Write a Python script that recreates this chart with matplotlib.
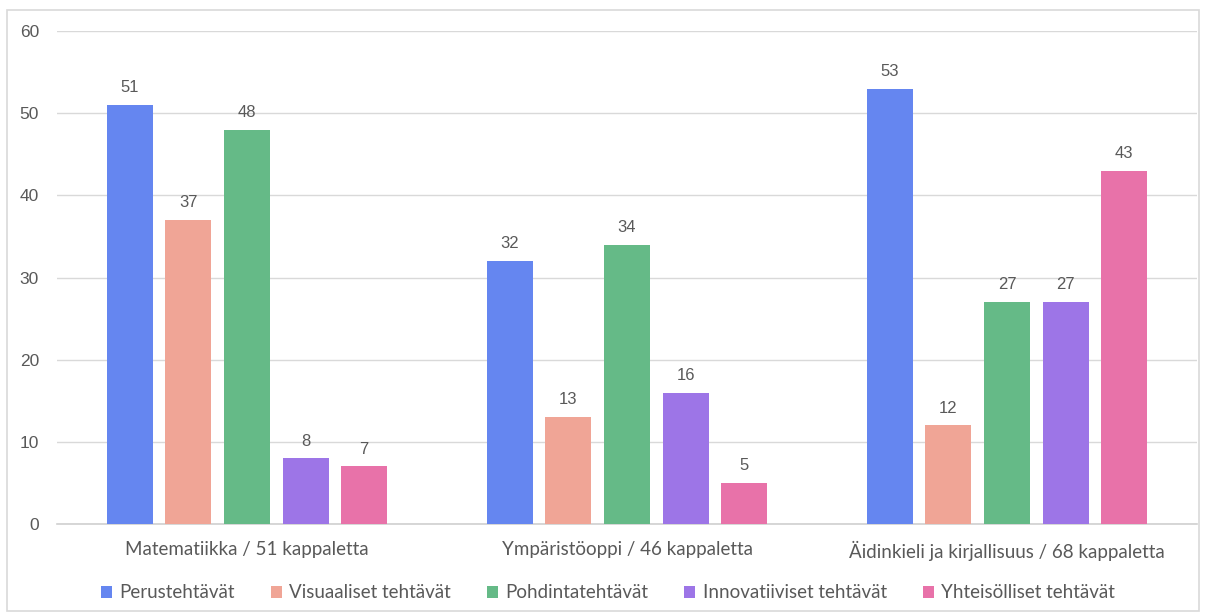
import numpy as np
import matplotlib.pyplot as plt
from matplotlib.patches import Rectangle

# Aineet ja tehtävätyypit
aineet = ["Matematiikka / 51 kappaletta",
          "Ympäristöoppi / 46 kappaletta",
          "Äidinkieli ja kirjallisuus / 68 kappaletta"]
tyypit = ["Perustehtävät", "Visuaaliset tehtävät", "Pohdintatehtävät",
          "Innovatiiviset tehtävät", "Yhteisölliset tehtävät"]
perus = [51, 32, 53]
visuaaliset = [37, 13, 12]
pohdinta = [48, 34, 27]
innovatiiviset = [8, 16, 27]
yhteisolliset = [7, 5, 43]

sarjat = [perus, visuaaliset, pohdinta, innovatiiviset, yhteisolliset]
varit = ["#6586F0", "#F0A596", "#65BA87", "#9D75E7", "#E872A9"]
teksti = "#595959"

fig = plt.figure(figsize=(12.06, 6.15), dpi=100)
ax = fig.add_axes([57 / 1206, 1 - 524 / 615, 1140 / 1206, 493 / 615])

x = np.arange(len(aineet))
leveys = 0.121
askel = 0.154
for i, (arvot, vari) in enumerate(zip(sarjat, varit)):
    pos = x + (i - 2) * askel
    ax.bar(pos, arvot, width=leveys, color=vari, label=tyypit[i], zorder=3)
    for p, v in zip(pos, arvot):
        ax.annotate(str(v), (p, v), xytext=(0, 7), textcoords="offset points",
                    ha="center", va="bottom", fontsize=12, color=teksti,
                    family="Liberation Sans")

ax.set_xlim(-0.5, 2.5)
ax.set_ylim(0, 60)
ax.set_yticks(range(0, 61, 10))
ax.grid(axis="y", color="#D9D9D9", linewidth=1, zorder=0)
for s in ["top", "right", "left"]:
    ax.spines[s].set_visible(False)
ax.spines["bottom"].set_color("#D0D0D0")
ax.spines["bottom"].set_linewidth(1.2)
ax.tick_params(axis="both", length=0)
ax.tick_params(axis="y", pad=13, labelsize=12.5, labelcolor=teksti)
ax.tick_params(axis="x", pad=12, labelsize=13.5, labelcolor=teksti)
for t in ax.get_yticklabels():
    t.set_family("Liberation Sans")
ax.set_xticks(x)
ax.set_xticklabels(aineet, family="Lato")

leg = fig.legend(loc="center", bbox_to_anchor=(608 / 1206, 1 - 593 / 615), ncol=5,
                 frameon=False, handlelength=0.6, handleheight=0.6, handletextpad=0.4,
                 columnspacing=1.9, prop={"family": "Lato", "size": 13.5})
for t in leg.get_texts():
    t.set_color(teksti)

# kehys koko kuvan ympärille
fig.patches.append(Rectangle((7 / 1206, 4 / 615), 1192 / 1206, 601 / 615,
                             transform=fig.transFigure, fill=False,
                             edgecolor="#D9D9D9", linewidth=1.2))

fig.savefig("out.png", dpi=100)
